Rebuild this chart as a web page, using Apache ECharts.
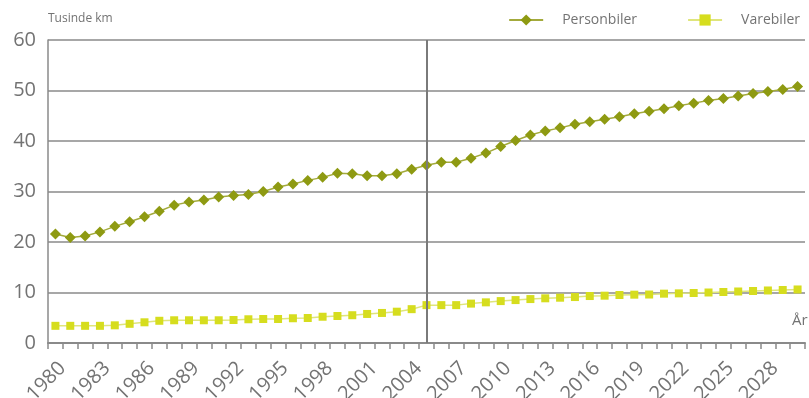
<!DOCTYPE html>
<html>
<head>
<meta charset="utf-8">
<script src="https://cdn.jsdelivr.net/npm/echarts@6/dist/echarts.min.js"></script>
<style>
  html, body { margin: 0; padding: 0; background: #fff; }
  #chart { width: 809px; height: 398px; }
</style>
</head>
<body>
<div id="chart"></div>
<script>
// Years 1980–2030
const years = [];
for (let y = 1980; y <= 2030; y++) years.push(String(y));

// Thousand km driven per vehicle
const personbiler = [
  21.6, 20.9, 21.2, 22.0, 23.1, 24.0, 25.0, 26.1, 27.3, 27.9,
  28.3, 28.9, 29.2, 29.4, 30.0, 30.9, 31.5, 32.2, 32.8, 33.6,
  33.5, 33.1, 33.1, 33.5, 34.4, 35.2, 35.8, 35.8, 36.6, 37.6,
  38.9, 40.1, 41.2, 42.0, 42.6, 43.3, 43.8, 44.3, 44.8, 45.4,
  45.9, 46.4, 47.0, 47.5, 48.0, 48.4, 48.9, 49.4, 49.8, 50.2,
  50.8
];
const varebiler = [
  3.4, 3.4, 3.4, 3.4, 3.5, 3.8, 4.1, 4.4, 4.5, 4.5,
  4.5, 4.5, 4.55, 4.7, 4.75, 4.75, 4.9, 4.95, 5.2, 5.35,
  5.5, 5.75, 5.95, 6.2, 6.7, 7.5, 7.5, 7.5, 7.8, 8.05,
  8.3, 8.5, 8.7, 8.85, 8.97, 9.1, 9.3, 9.37, 9.5, 9.57,
  9.6, 9.77, 9.83, 9.9, 10.0, 10.1, 10.2, 10.3, 10.4, 10.5,
  10.6
];
const divider = '2005';

const FONT = '"Open Sans", "Noto Sans", sans-serif';
const GREY = '#737373';

const chart = echarts.init(document.getElementById('chart'), null, { renderer: 'canvas' });
chart.setOption({
  animation: false,
  textStyle: { fontFamily: FONT },
  grid: { left: 48, right: 4, top: 40, bottom: 55, containLabel: false, outerBoundsMode: 'none' },
  legend: {
    top: 8,
    right: 4,
    itemWidth: 34,
    itemHeight: 14,
    itemGap: 50,
    textStyle: { color: GREY, fontSize: 14, fontFamily: FONT, padding: [0, 0, 0, 14] },
    data: ['Personbiler', 'Varebiler']
  },
  xAxis: {
    type: 'category',
    data: years,
    boundaryGap: true,
    axisLine: { lineStyle: { color: '#8a8a8a', width: 2 } },
    axisTick: { show: true, interval: 0, length: 6, lineStyle: { color: '#8a8a8a', width: 1.5 } },
    axisLabel: {
      interval: 2,
      rotate: 45,
      color: GREY,
      fontSize: 20,
      fontFamily: FONT,
      verticalAlign: 'top',
      margin: 15
    },
    splitLine: { show: false }
  },
  yAxis: {
    type: 'value',
    min: 0,
    max: 60,
    interval: 10,
    axisLine: { show: true, lineStyle: { color: '#8a8a8a', width: 1.5 } },
    axisTick: { show: false },
    axisLabel: { color: GREY, fontSize: 20, fontFamily: FONT, margin: 12 },
    splitLine: { show: true, lineStyle: { color: '#8a8a8a', width: 1.5 } }
  },
  graphic: [
    { type: 'text', left: 48, top: 13, style: { text: 'Tusinde km', fill: GREY, fontSize: 12, fontFamily: FONT } },
    { type: 'text', left: 792, top: 313, style: { text: 'År', fill: GREY, fontSize: 15, fontFamily: FONT } }
  ],
  series: [
    {
      name: 'Personbiler',
      type: 'line',
      data: personbiler,
      symbol: 'diamond',
      symbolSize: 11,
      showAllSymbol: true,
      itemStyle: { color: '#8e9a12' },
      lineStyle: { color: '#a3aa3c', width: 1.5 },
      markLine: {
        silent: true,
        symbol: 'none',
        label: { show: false },
        lineStyle: { color: '#7a7a7a', width: 2, type: 'solid' },
        data: [{ xAxis: divider }]
      },
      z: 3
    },
    {
      name: 'Varebiler',
      type: 'line',
      data: varebiler,
      symbol: 'rect',
      symbolSize: 8,
      showAllSymbol: true,
      itemStyle: { color: '#d6dd1e' },
      lineStyle: { color: '#dfe57c', width: 1.5 },
      z: 3
    }
  ]
});
</script>
</body>
</html>
